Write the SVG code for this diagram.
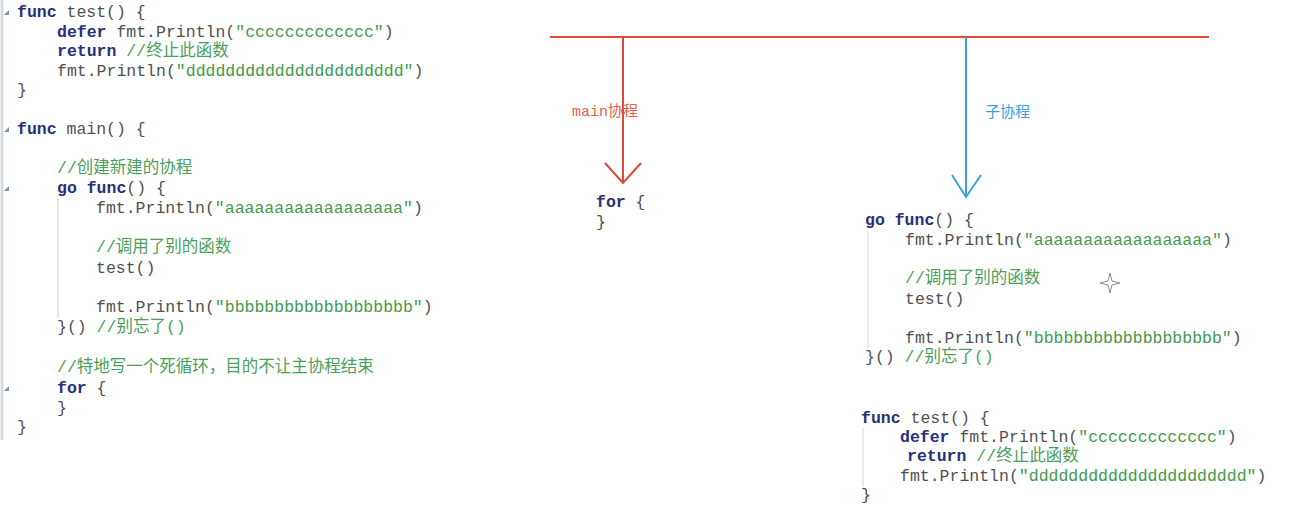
<svg xmlns="http://www.w3.org/2000/svg" width="1301" height="516" viewBox="0 0 1301 516" xml:space="preserve">
<style>
.c{font-family:"Liberation Mono","Noto Sans CJK SC",monospace;font-size:16.5px;fill:#505050}
.k{font-weight:bold;fill:#27307a}
.s{fill:#3f9a4a}
.m{fill:#4aa05a}
.guide{stroke:#e2e2e2;stroke-width:1.5}
.fold{fill:#7a90b0}
.lbl{font-family:"Liberation Mono","Noto Sans CJK SC",monospace;font-size:15px}
</style>
<rect x="0" y="0" width="1301" height="516" fill="#ffffff"/>
<g id="gutter">
<line x1="2" y1="0" x2="2" y2="440" stroke="#d6dae2" stroke-width="3"/>
<path class="fold" d="M4,15 L9,10 L9,15 Z"/>
<path class="fold" d="M4,132 L9,127 L9,132 Z"/>
<path class="fold" d="M4,191 L9,186 L9,191 Z"/>
<path class="fold" d="M4,391 L9,386 L9,391 Z"/>
<line class="guide" x1="58" y1="198" x2="58" y2="318"/>
<line class="guide" x1="868" y1="231" x2="868" y2="348"/>
<line class="guide" x1="863" y1="428" x2="863" y2="487"/>
</g>
<g id="connectors" fill="none" stroke-width="2">
<line x1="550" y1="37" x2="1209" y2="37" stroke="#e0483a"/>
<line x1="623" y1="37" x2="623" y2="182" stroke="#e0483a"/>
<polyline points="605,163 623,183 641,163" stroke="#e0483a"/>
<line x1="966" y1="37" x2="966" y2="196" stroke="#3aa2e0"/>
<polyline points="952,175 966,197 981,175" stroke="#3aa2e0"/>
</g>
<g id="left-code">
<text class="c" x="17" y="17"><tspan class="k">func</tspan> test() {</text>
<text class="c" x="57" y="37"><tspan class="k">defer</tspan> fmt.Println(<tspan class="s">"ccccccccccccc"</tspan>)</text>
<text class="c" x="57" y="56"><tspan class="k">return</tspan> <tspan class="m">//终止此函数</tspan></text>
<text class="c" x="57" y="76">fmt.Println(<tspan class="s">"dddddddddddddddddddddd"</tspan>)</text>
<text class="c" x="17" y="95">}</text>
<text class="c" x="17" y="134"><tspan class="k">func</tspan> main() {</text>
<text class="c" x="57" y="173"><tspan class="m">//创建新建的协程</tspan></text>
<text class="c" x="57" y="193"><tspan class="k">go</tspan> <tspan class="k">func</tspan>() {</text>
<text class="c" x="96" y="213">fmt.Println(<tspan class="s">"aaaaaaaaaaaaaaaaaa"</tspan>)</text>
<text class="c" x="96" y="252"><tspan class="m">//调用了别的函数</tspan></text>
<text class="c" x="96" y="273">test()</text>
<text class="c" x="96" y="312">fmt.Println(<tspan class="s">"bbbbbbbbbbbbbbbbbbb"</tspan>)</text>
<text class="c" x="57" y="332">}() <tspan class="m">//别忘了()</tspan></text>
<text class="c" x="57" y="372"><tspan class="m">//特地写一个死循环，目的不让主协程结束</tspan></text>
<text class="c" x="57" y="393"><tspan class="k">for</tspan> {</text>
<text class="c" x="57" y="413">}</text>
<text class="c" x="17" y="432">}</text>
</g>
<g id="main-label">
<text class="lbl" x="572" y="116" fill="#e2604e">main协程</text>
</g>
<g id="sub-label">
<text class="lbl" x="985" y="117" fill="#3aa2e0">子协程</text>
</g>
<g id="main-for">
<text class="c" x="596" y="207"><tspan class="k">for</tspan> {</text>
<text class="c" x="596" y="227">}</text>
</g>
<g id="goroutine-code">
<text class="c" x="865" y="225"><tspan class="k">go</tspan> <tspan class="k">func</tspan>() {</text>
<text class="c" x="905" y="245">fmt.Println(<tspan class="s">"aaaaaaaaaaaaaaaaaa"</tspan>)</text>
<text class="c" x="905" y="283"><tspan class="m">//调用了别的函数</tspan></text>
<text class="c" x="905" y="304">test()</text>
<text class="c" x="905" y="343">fmt.Println(<tspan class="s">"bbbbbbbbbbbbbbbbbbb"</tspan>)</text>
<text class="c" x="865" y="362">}() <tspan class="m">//别忘了()</tspan></text>
</g>
<g id="test-code">
<text class="c" x="861" y="423"><tspan class="k">func</tspan> test() {</text>
<text class="c" x="900" y="442"><tspan class="k">defer</tspan> fmt.Println(<tspan class="s">"ccccccccccccc"</tspan>)</text>
<text class="c" x="907" y="461"><tspan class="k">return</tspan> <tspan class="m">//终止此函数</tspan></text>
<text class="c" x="900" y="481">fmt.Println(<tspan class="s">"dddddddddddddddddddddd"</tspan>)</text>
<text class="c" x="861" y="500">}</text>
</g>
<g id="cursor">
<path d="M1110,273 L1112,281 L1120,283 L1112,285 L1110,293 L1108,285 L1100,283 L1108,281 Z" fill="#ffffff" stroke="#8a8a8a" stroke-width="1"/>
</g>
</svg>
